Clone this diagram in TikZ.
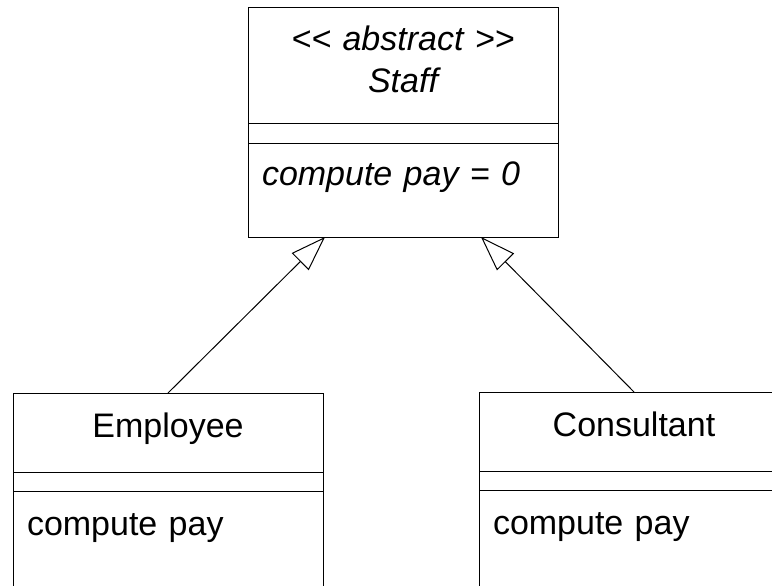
\documentclass[tikz,border=0pt]{standalone}
\usepackage{fontspec}
\setmainfont{Liberation Sans}
\usetikzlibrary{positioning,arrows.meta}

\tikzset{
  part/.style={draw, line width=0.5pt, minimum width=155pt, inner xsep=7pt, inner ysep=0pt,
    outer sep=0pt, text width=141pt, font=\fontsize{17pt}{21pt}\selectfont},
  namepart/.style={part, align=center, minimum height=39.5pt, text height=22pt, text depth=17.5pt},
  attrpart/.style={part, minimum height=9.5pt},
  opspart/.style={part, align=left, minimum height=60pt, text height=22pt, text depth=38pt},
  inherit/.style={line width=0.5pt, -{Triangle[open, length=17.5pt, width=12pt]}}
}

\begin{document}
\begin{tikzpicture}[x=0.5pt, y=-0.5pt]
  \clip (0,0) rectangle (772,585);
  % abstract class
  \node[namepart, minimum height=58pt, text height=21.5pt, text depth=36.5pt] (staff) at (403,65)
    {\itshape <{}< abstract >{}>\\ Staff};
  \node[attrpart, minimum height=10pt, below=0pt of staff] (staffattr) {};
  \node[part, align=left, minimum height=47pt, text height=21pt, text depth=26pt, below=0pt of staffattr] (staffops)
    {\itshape compute pay = 0};
  % subclasses
  \node[namepart] (employee) at (168,432.5) {Employee};
  \node[attrpart, below=0pt of employee] (employeeattr) {};
  \node[opspart, below=0pt of employeeattr] (employeeops) {compute pay};
  \node[namepart] (consultant) at (634,431.5) {Consultant};
  \node[attrpart, below=0pt of consultant] (consultantattr) {};
  \node[opspart, below=0pt of consultantattr] (consultantops) {compute pay};
  \draw[inherit] (employee.north) -- ([xshift=-39pt]staffops.south);
  \draw[inherit] (consultant.north) -- ([xshift=39pt]staffops.south);
\end{tikzpicture}
\end{document}
